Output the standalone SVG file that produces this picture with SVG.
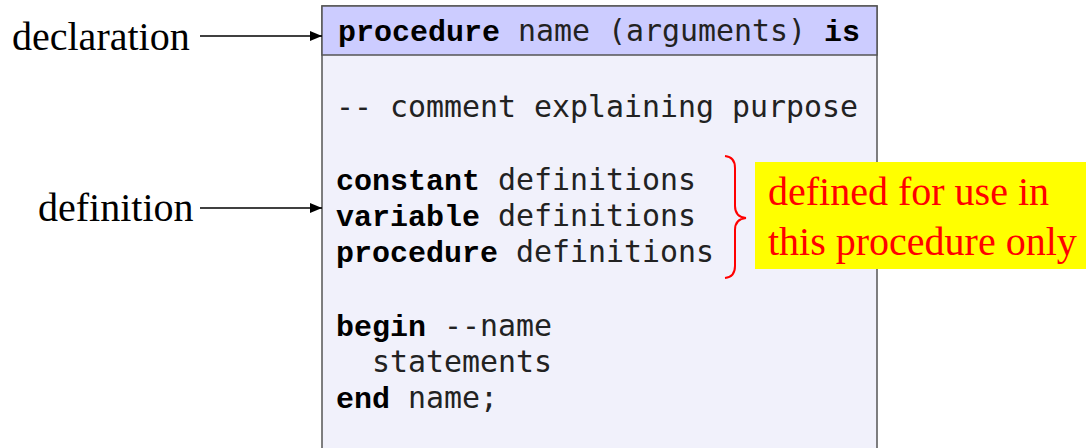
<svg xmlns="http://www.w3.org/2000/svg" width="1086" height="448" viewBox="0 0 1086 448">
<style>
.lbl{font-family:"Liberation Serif","Times New Roman",serif;font-size:40px;fill:#000}
.code{font-family:"DejaVu Sans Mono","Liberation Mono",monospace;font-size:29.9px;fill:#222}
.kw{font-family:"Liberation Mono","Courier New",monospace;font-weight:bold;font-size:30px;fill:#000}
.note{font-family:"Liberation Serif","Times New Roman",serif;font-size:40px;fill:#ff0000}
.conn{stroke:#000;stroke-width:1.5;fill:none;marker-end:url(#ah)}
</style>
<defs>
<marker id="ah" markerWidth="12" markerHeight="10" refX="12" refY="5" orient="auto" markerUnits="userSpaceOnUse">
<path d="M0,0 L12,5 L0,10 z" fill="#000"/>
</marker>
</defs>
<rect width="1086" height="448" fill="#fff"/>
<g id="procedure-box">
<rect x="322" y="6" width="555" height="450" fill="#f1f1fb" stroke="#555" stroke-width="1.5"/>
<rect x="322" y="6" width="555" height="49" fill="#ccccff" stroke="#555" stroke-width="1.5"/>
<text x="338" y="41" class="code"><tspan class="kw">procedure</tspan> name (arguments) <tspan class="kw">is</tspan></text>
<text x="336" y="117" class="code">-- comment explaining purpose</text>
<text x="336" y="190" class="code"><tspan class="kw">constant</tspan> definitions</text>
<text x="336" y="226" class="code"><tspan class="kw">variable</tspan> definitions</text>
<text x="336" y="262" class="code"><tspan class="kw">procedure</tspan> definitions</text>
<text x="336" y="336" class="code"><tspan class="kw">begin</tspan> --name</text>
<text x="372" y="372" class="code">statements</text>
<text x="336" y="408" class="code"><tspan class="kw">end</tspan> name;</text>
</g>
<g id="declaration-label">
<text x="12" y="50" class="lbl">declaration</text>
</g>
<g id="definition-label">
<text x="38" y="221" class="lbl">definition</text>
</g>
<g id="note">
<path d="M725,156 Q735,157 735,168 L735,206 Q735,217 746,218 Q735,219 735,230 L735,266 Q735,277 725,278" fill="none" stroke="#ff0000" stroke-width="2"/>
<rect x="755" y="162" width="331" height="107" fill="#ffff00"/>
<text x="768" y="205" class="note">defined for use in</text>
<text x="768" y="255" class="note">this procedure only</text>
</g>
<g id="connectors">
<line x1="200" y1="36" x2="322" y2="36" class="conn"/>
<line x1="200" y1="208" x2="322" y2="208" class="conn"/>
</g>
</svg>
